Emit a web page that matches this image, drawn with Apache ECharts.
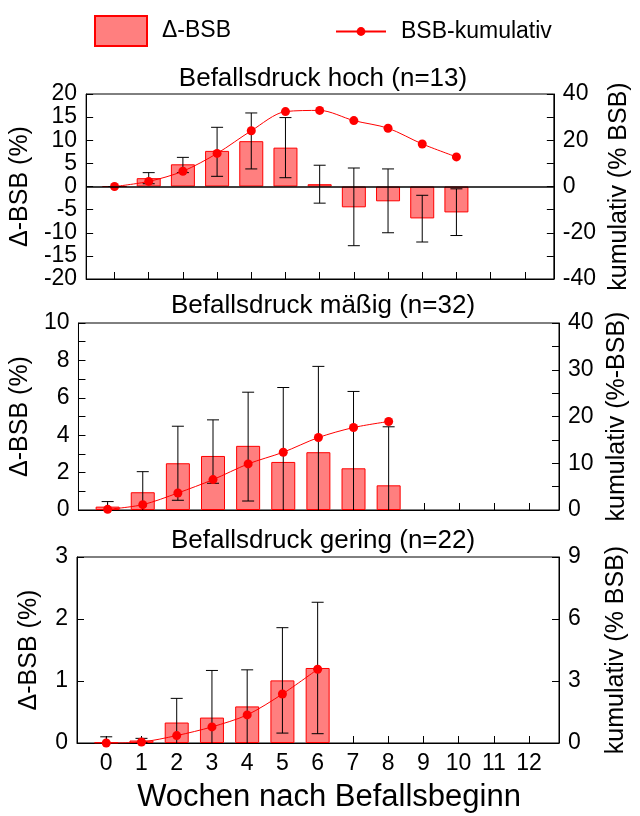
<!DOCTYPE html>
<html>
<head>
<meta charset="utf-8">
<script src="https://cdn.jsdelivr.net/npm/echarts@6/dist/echarts.min.js"></script>
<style>
html, body { margin: 0; padding: 0; background: #fff; }
#chart { width: 640px; height: 816px; }
</style>
</head>
<body>
<div id="chart"></div>
<script>
const fontFamily = "'Liberation Sans', Arial, sans-serif";

// x: Wochen nach Befallsbeginn
const weeks = [0, 1, 2, 3, 4, 5, 6, 7, 8, 9, 10, 11, 12];

// Befallsdruck hoch (n=13)
const hochDelta = [0, 1.8, 4.8, 7.7, 9.8, 8.4, 0.5, -4.5, -3.2, -6.9, -5.6];
const hochLow = [0, 0.6, 3.0, 2.2, 3.8, 1.9, -3.6, -12.8, -10.0, -12.0, -10.6];
const hochHigh = [0, 3.0, 6.3, 12.8, 15.9, 14.9, 4.6, 4.0, 3.8, -1.9, -0.5];
const hochKum = [0, 2.2, 6.6, 14.3, 24.1, 32.4, 32.9, 28.5, 25.2, 18.4, 12.8];

// Befallsdruck mäßig (n=32)
const massigDelta = [0.18, 0.95, 2.5, 2.89, 3.43, 2.57, 3.09, 2.23, 1.32];
const massigLow = [-0.09, -0.15, 0.52, 1.43, 0.48, -1.4, -1.5, -1.9, -1.8];
const massigHigh = [0.45, 2.05, 4.48, 4.82, 6.3, 6.55, 7.68, 6.34, 4.45];
const massigKum = [0.14, 1.14, 3.64, 6.5, 9.86, 12.36, 15.5, 17.64, 18.93];

// Befallsdruck gering (n=22)
const geringDelta = [0.01, 0.04, 0.33, 0.41, 0.59, 1.01, 1.21];
const geringLow = [-0.08, 0.005, -0.06, -0.35, -0.02, 0.16, 0.15];
const geringHigh = [0.1, 0.075, 0.72, 1.17, 1.18, 1.86, 2.27];
const geringKum = [0, 0.05, 0.36, 0.78, 1.36, 2.37, 3.57];

const panels = [
	{ title: 'Befallsdruck hoch (n=13)', titleTop: 61, top: 94, height: 185,
	  delta: hochDelta, low: hochLow, high: hochHigh, kum: hochKum,
	  left: { min: -20, max: 20, interval: 5, step: 5 }, leftGap: 43,
	  right: { min: -40, max: 40, interval: 10, step: 20 }, rightName: 'kumulativ (% BSB)' },
	{ title: 'Befallsdruck mäßig (n=32)', titleTop: 288, top: 323, height: 187,
	  delta: massigDelta, low: massigLow, high: massigHigh, kum: massigKum,
	  left: { min: 0, max: 10, interval: 1, step: 2 }, leftGap: 35,
	  right: { min: 0, max: 40, interval: 5, step: 10 }, rightName: 'kumulativ (%-BSB)' },
	{ title: 'Befallsdruck gering (n=22)', titleTop: 523, top: 557, height: 186,
	  delta: geringDelta, low: geringLow, high: geringHigh, kum: geringKum,
	  left: { min: 0, max: 3, interval: 1, step: 1 }, leftGap: 35,
	  right: { min: 0, max: 9, interval: 3, step: 3 }, rightName: 'kumulativ (% BSB)' }
];

function yAxisFor(i, cfg, pos, name, gap) {
	return {
		type: 'value', gridIndex: i, position: pos,
		min: cfg.min, max: cfg.max, interval: cfg.interval,
		name: name, nameLocation: 'middle', nameRotate: 90, nameGap: gap,
		nameTextStyle: { fontSize: 25, color: '#000', fontFamily: fontFamily },
		axisLine: { show: true, onZero: false, lineStyle: { color: '#000', width: 1 } },
		axisTick: { show: true, inside: true, length: 7, lineStyle: { color: '#000' } },
		axisLabel: {
			fontSize: 23, color: '#000', fontFamily: fontFamily, margin: 9,
			formatter: function (v) { return Math.abs(v % cfg.step) < 1e-9 ? String(v) : ''; }
		},
		splitLine: { show: false }
	};
}

function errorRender(yMin) {
	return function (params, api) {
		var x = api.value(0), lo = api.value(1), hi = api.value(2);
		var hw = 6;
		var showLow = lo >= yMin;
		var pLo = api.coord([x, Math.max(lo, yMin)]);
		var pHi = api.coord([x, hi]);
		var st = { stroke: '#000', lineWidth: 1 };
		var children = [
			{ type: 'line', shape: { x1: pLo[0], y1: pLo[1], x2: pHi[0], y2: pHi[1] }, style: st },
			{ type: 'line', shape: { x1: pHi[0] - hw, y1: pHi[1], x2: pHi[0] + hw, y2: pHi[1] }, style: st }
		];
		if (showLow) {
			children.push({ type: 'line', shape: { x1: pLo[0] - hw, y1: pLo[1], x2: pLo[0] + hw, y2: pLo[1] }, style: st });
		}
		return { type: 'group', children: children };
	};
}

var grids = [], xAxes = [], yAxes = [], series = [], titles = [];

panels.forEach(function (p, i) {
	var last = i === panels.length - 1;
	grids.push({ left: 77, right: 81, top: p.top, height: p.height, show: true,
		borderColor: '#000', borderWidth: 1, backgroundColor: 'transparent' });
	titles.push({ text: p.title, left: 318, top: p.titleTop, textAlign: 'center',
		textStyle: { fontSize: 26, fontWeight: 'normal', color: '#000', fontFamily: fontFamily } });
	xAxes.push({
		type: 'value', gridIndex: i, min: -0.83, max: 12.85,
		axisLine: { show: true, onZero: false, lineStyle: { color: '#000' } },
		axisTick: { show: true, inside: true, length: 7, customValues: weeks, lineStyle: { color: '#000' } },
		axisLabel: { show: last, customValues: weeks, fontSize: 23, color: '#000', fontFamily: fontFamily, margin: 9 },
		splitLine: { show: false },
		name: last ? 'Wochen nach Befallsbeginn' : '', nameLocation: 'middle', nameGap: 39,
		nameTextStyle: { fontSize: 31, color: '#000', fontFamily: fontFamily, padding: [0, 0, 0, 22] }
	});
	yAxes.push(yAxisFor(i, p.left, 'left', 'Δ-BSB (%)', p.leftGap));
	yAxes.push(yAxisFor(i, p.right, 'right', p.rightName, 45));

	var bar = {
		name: 'Δ-BSB', type: 'bar', xAxisIndex: i, yAxisIndex: 2 * i,
		barWidth: 24,
		itemStyle: { color: '#ff7f7f', borderColor: '#ff0000', borderWidth: 1 },
		data: p.delta.map(function (v, k) { return [weeks[k], v]; }),
		z: 2
	};
	if (i === 0) {
		bar.markLine = { silent: true, symbol: 'none', label: { show: false },
			lineStyle: { color: '#000', width: 1.5, type: 'solid' }, data: [{ yAxis: 0 }] };
	}
	series.push(bar);
	series.push({
		type: 'custom', xAxisIndex: i, yAxisIndex: 2 * i,
		renderItem: errorRender(p.left.min),
		encode: { x: 0, y: [1, 2] },
		data: p.low.map(function (v, k) { return [weeks[k], v, p.high[k]]; }),
		z: 3
	});
	series.push({
		name: 'BSB-kumulativ', type: 'line', xAxisIndex: i, yAxisIndex: 2 * i + 1,
		smooth: 0.3, symbol: 'circle', symbolSize: 9,
		lineStyle: { color: '#ff0000', width: 1 },
		itemStyle: { color: '#ff0000' },
		data: p.kum.map(function (v, k) { return [weeks[k], v]; }),
		z: 4
	});
});

var myChart = echarts.init(document.getElementById('chart'));
myChart.setOption({
	animation: false,
	title: titles,
	legend: [
		{ data: [{ name: 'Δ-BSB', icon: 'rect' }], left: 89, top: 10, itemWidth: 52, itemHeight: 30,
		  itemStyle: { borderRadius: 0 },
		  textStyle: { fontSize: 23, color: '#000', fontFamily: fontFamily, padding: [0, 0, 0, 10] } },
		{ data: ['BSB-kumulativ'], left: 330, top: 15, itemWidth: 50, itemHeight: 11,
		  textStyle: { fontSize: 23, color: '#000', fontFamily: fontFamily, padding: [0, 0, 0, 10] } }
	],
	grid: grids,
	xAxis: xAxes,
	yAxis: yAxes,
	series: series
});
</script>
</body>
</html>
